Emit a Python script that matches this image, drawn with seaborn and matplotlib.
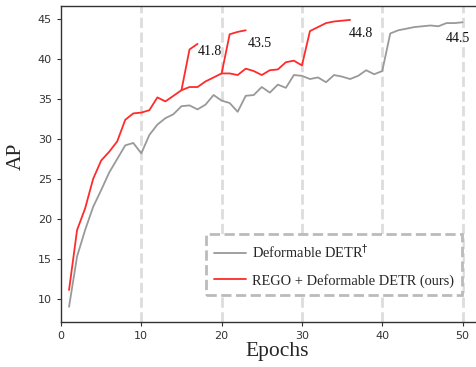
import matplotlib
matplotlib.use("Agg")
import matplotlib.pyplot as plt
import seaborn as sns
import pandas as pd

# ---- data ----
base_epochs = list(range(1, 51))
base_ap = [9.0, 15.3, 18.6, 21.5, 23.6, 25.8, 27.5, 29.2, 29.5, 28.2,
           30.5, 31.8, 32.6, 33.1, 34.1, 34.2, 33.7, 34.3, 35.5, 34.8,
           34.5, 33.4, 35.4, 35.5, 36.5, 35.8, 36.8, 36.4, 38.0, 37.9,
           37.5, 37.7, 37.1, 38.0, 37.8, 37.5, 37.9, 38.6, 38.1, 38.5,
           43.2, 43.6, 43.8, 44.0, 44.1, 44.2, 44.1, 44.5, 44.5, 44.6]

rego_epochs = list(range(1, 37))
rego_ap = [11.1, 18.6, 21.3, 25.0, 27.3, 28.4, 29.7, 32.4, 33.2, 33.3,
           33.6, 35.2, 34.7, 35.4, 36.1, 36.5, 36.5, 37.2, 37.7, 38.2,
           38.2, 38.0, 38.8, 38.5, 38.0, 38.6, 38.7, 39.6, 39.8, 39.2,
           43.5, 44.0, 44.5, 44.7, 44.8, 44.9]

branch1_epochs = [15, 16, 17]
branch1_ap = [36.1, 41.2, 41.9]
branch2_epochs = [20, 21, 22, 23]
branch2_ap = [38.2, 43.1, 43.4, 43.6]

labels = ["41.8", "43.5", "44.8", "44.5"]
label_x = [18.6, 24.7, 37.4, 49.4]
label_y = [40.9, 41.9, 43.25, 42.6]

vlines = [10, 20, 30, 40, 50]
xticks = [0, 10, 20, 30, 40, 50]
yticks = [10, 15, 20, 25, 30, 35, 40, 45]

legend_labels = ["Deformable DETR$^{\\dagger}$", "REGO + Deformable DETR (ours)"]

# ---- style ----
sns.set_style("ticks")
plt.rcParams["font.family"] = ["DejaVu Sans"]
serif = ["Liberation Serif", "DejaVu Serif"]

GRAY = "#999999"
RED = "#ff2b2b"

fig = plt.figure(figsize=(4.77, 3.67), dpi=100)
ax = fig.add_axes([61 / 477, 45 / 367, 416 / 477, 316.5 / 367])

for v in vlines:
    ax.axvline(v, color="#dddddd", lw=2, ls="--", zorder=0)

df_base = pd.DataFrame({"epoch": base_epochs, "ap": base_ap})
df_rego = pd.DataFrame({"epoch": rego_epochs, "ap": rego_ap})
df_b1 = pd.DataFrame({"epoch": branch1_epochs, "ap": branch1_ap})
df_b2 = pd.DataFrame({"epoch": branch2_epochs, "ap": branch2_ap})

sns.lineplot(data=df_base, x="epoch", y="ap", ax=ax, color=GRAY, lw=1.3,
             label=legend_labels[0])
sns.lineplot(data=df_rego, x="epoch", y="ap", ax=ax, color=RED, lw=1.3,
             label=legend_labels[1])
sns.lineplot(data=df_b1, x="epoch", y="ap", ax=ax, color=RED, lw=1.3, legend=False)
sns.lineplot(data=df_b2, x="epoch", y="ap", ax=ax, color=RED, lw=1.3, legend=False)

for t, x, y in zip(labels, label_x, label_y):
    ax.text(x, y, t, ha="center", va="center", fontsize=10, family=serif,
            color="#111111")

ax.set_xlim(0, 51.8)
ax.set_ylim(7.1, 46.7)
ax.set_xticks(xticks)
ax.set_yticks(yticks)
ax.tick_params(labelsize=8, colors="#333333", length=3, width=0.8)
ax.set_xlabel("Epochs", fontsize=15.5, family=serif)
ax.set_ylabel("AP", fontsize=15.5, family=serif)
ax.xaxis.set_label_coords(0.52, -0.064)
ax.yaxis.set_label_coords(-0.084, 0.524)
for s in ["left", "bottom", "top"]:
    ax.spines[s].set_color("#333333")
    ax.spines[s].set_linewidth(1.0)
ax.spines["right"].set_visible(False)

h, l = ax.get_legend_handles_labels()
leg = ax.legend(h, l, loc="upper left", bbox_to_anchor=(0.349, 0.278),
                borderaxespad=0,
                prop={"family": serif, "size": 10.4}, fancybox=False,
                handlelength=2.2, handletextpad=0.45, labelspacing=0.9,
                borderpad=0.55, frameon=True)
fr = leg.get_frame()
fr.set_linestyle("--")
fr.set_edgecolor("#bbbbbb")
fr.set_linewidth(2)
fr.set_facecolor("white")
fr.set_alpha(1)

fig.savefig("out.png", dpi=100)
